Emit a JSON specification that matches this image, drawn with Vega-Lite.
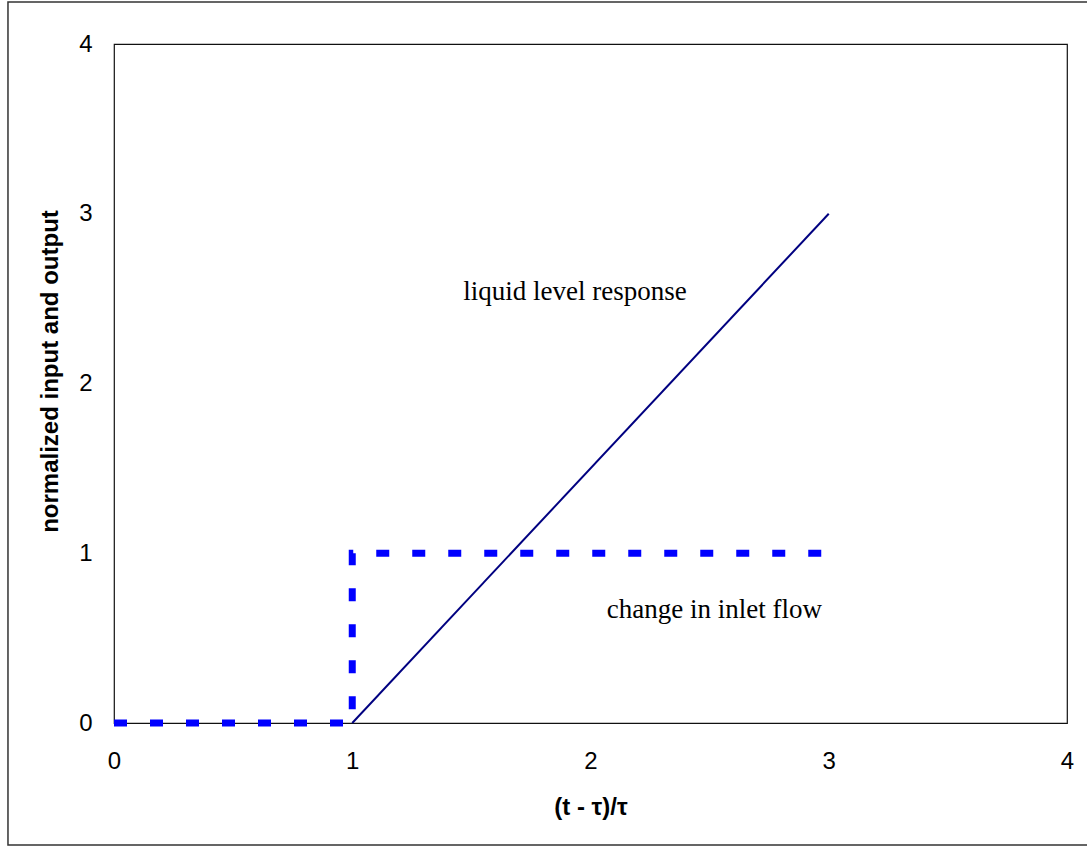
{
  "$schema": "https://vega.github.io/schema/vega-lite/v6.json",
  "width": 953,
  "height": 679,
  "autosize": {"type": "none"},
  "padding": {"left": 114, "top": 44, "right": 20, "bottom": 133},
  "background": "white",
  "config": {
    "view": {"stroke": "#111", "strokeWidth": 1.2},
    "axis": {
      "grid": false,
      "ticks": false,
      "domain": false,
      "labelFlush": false,
      "labelFont": "Liberation Sans",
      "labelFontSize": 24,
      "labelColor": "#000",
      "titleFont": "Liberation Sans",
      "titleFontSize": 24,
      "titleFontWeight": "bold",
      "titleColor": "#000",
      "format": "d"
    }
  },
  "datasets": {
    "inlet": [
      {"i": 0, "t": 0, "v": 0},
      {"i": 1, "t": 1, "v": 0},
      {"i": 2, "t": 1, "v": 1},
      {"i": 3, "t": 3, "v": 1}
    ],
    "level": [
      {"i": 0, "t": 1, "v": 0},
      {"i": 1, "t": 3, "v": 3}
    ],
    "notes": [
      {"t": 1.935, "v": 2.54, "label": "liquid level response"},
      {"t": 2.52, "v": 0.666, "label": "change in inlet flow"}
    ],
    "frame": [
      {"x1": -0.445, "x2": 4.2, "y1": -0.719, "y2": 4.247}
    ]
  },
  "layer": [
    {
      "data": {"name": "frame"},
      "mark": {"type": "rect", "fill": null, "stroke": "#333", "strokeWidth": 1.5},
      "encoding": {
        "x": {"field": "x1", "type": "quantitative", "scale": {"domain": [0, 4], "nice": false}, "axis": {"values": [0, 1, 2, 3, 4], "format": "d", "labelFlush": false, "labelPadding": 26, "title": "(t - τ)/τ", "titlePadding": 22}},
        "x2": {"field": "x2"},
        "y": {"field": "y1", "type": "quantitative", "scale": {"domain": [0, 4], "nice": false}, "axis": {"values": [0, 1, 2, 3, 4], "format": "d", "labelFlush": false, "labelPadding": 22, "title": "normalized input and output", "titlePadding": 16, "titleY": 327}},
        "y2": {"field": "y2"}
      }
    },
    {
      "data": {"name": "inlet"},
      "mark": {"type": "line", "color": "#0000FF", "strokeWidth": 7, "strokeDash": [13, 23], "strokeCap": "butt", "strokeJoin": "miter"},
      "encoding": {
        "x": {"field": "t", "type": "quantitative"},
        "y": {"field": "v", "type": "quantitative"},
        "order": {"field": "i"}
      }
    },
    {
      "data": {"name": "level"},
      "mark": {"type": "line", "color": "#000080", "strokeWidth": 2},
      "encoding": {
        "x": {"field": "t", "type": "quantitative"},
        "y": {"field": "v", "type": "quantitative"},
        "order": {"field": "i"}
      }
    },
    {
      "data": {"name": "notes"},
      "mark": {"type": "text", "font": "Liberation Serif", "fontSize": 27, "color": "#000", "align": "center", "baseline": "middle"},
      "encoding": {
        "x": {"field": "t", "type": "quantitative"},
        "y": {"field": "v", "type": "quantitative"},
        "text": {"field": "label"}
      }
    }
  ]
}
